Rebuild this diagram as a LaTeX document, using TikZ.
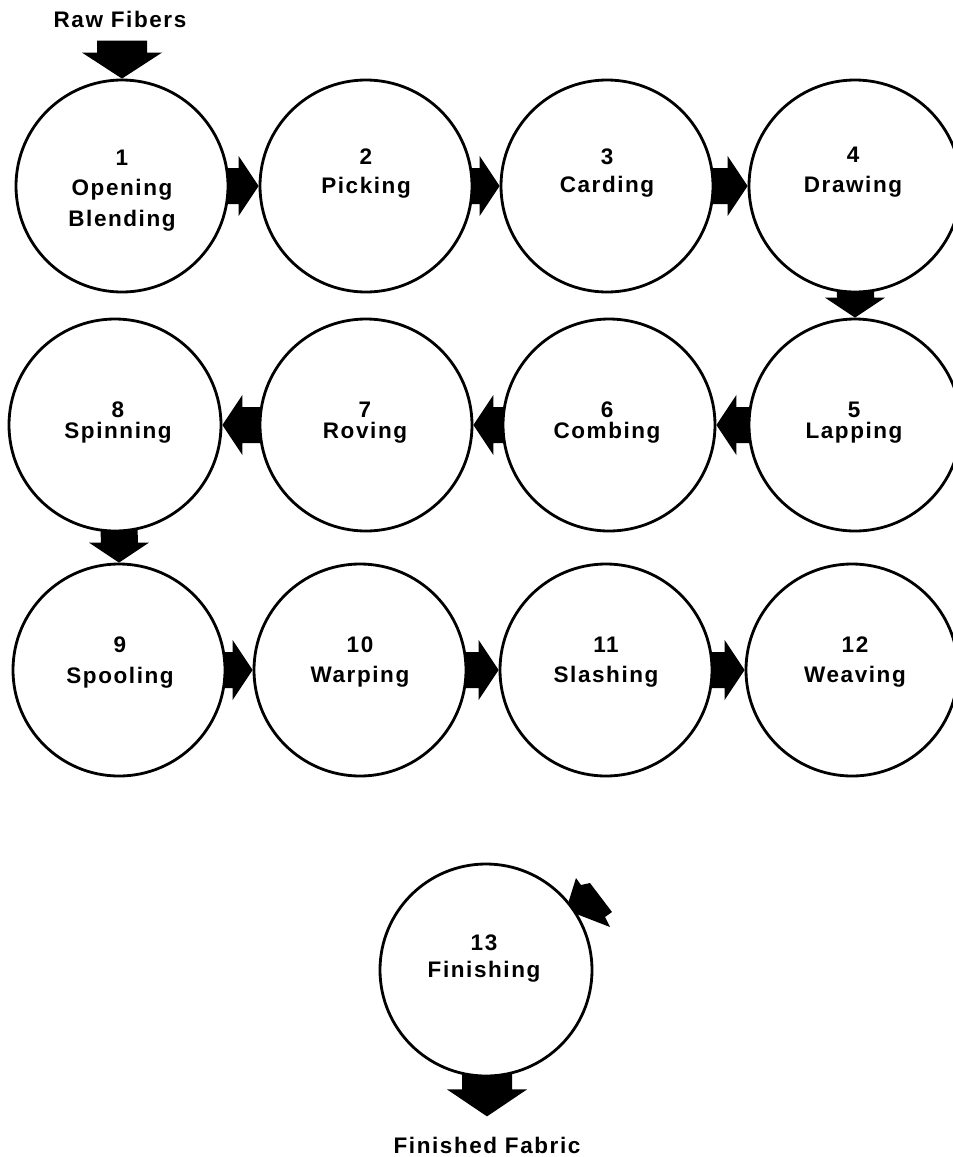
\documentclass[tikz,border=0pt]{standalone}
\usepackage{fontspec}
\setmainfont{Liberation Sans}
\newfontfamily\labfont[LetterSpace=7]{Liberation Sans Bold}
\usetikzlibrary{calc}
\pgfdeclarelayer{background}
\pgfsetlayers{background,main}
\tikzset{
  circ/.style={circle, draw=black, line width=2.8pt, fill=white, minimum size=212pt, inner sep=0pt},
  lab/.style={font=\labfont\fontsize{22.5}{26}\selectfont, inner sep=0pt, anchor=center},
  blockarrow/.style={fill=black}
}
\newcommand\arrR[2]{\fill[blockarrow] (#2.west) -- ++(-20,-30) -- ++(0,12) -- ($(#1.center)+(0,-18)$) -- ($(#1.center)+(0,18)$) -- ($(#2.west)+(-20,18)$) -- ++(0,12) -- cycle;}
\newcommand\arrL[2]{\fill[blockarrow] (#2.east) -- ++(20,-30) -- ++(0,12) -- ($(#1.center)+(0,-18)$) -- ($(#1.center)+(0,18)$) -- ($(#2.east)+(20,18)$) -- ++(0,12) -- cycle;}
\newcommand\arrD[2]{\fill[blockarrow] (#2.north) -- ++(-30,-20) -- ++(12,0) -- ($(#1.center)+(-19,0)$) -- ($(#1.center)+(19,0)$) -- ($(#2.north)+(19,-20)$) -- ++(11,0) -- cycle;}
\begin{document}
\begin{tikzpicture}[x=1pt,y=-1pt]
\useasboundingbox (0,0) rectangle (953,1157);
% circles
\node[circ] (c1) at (122,186) {};
\node[circ] (c2) at (366,186) {};
\node[circ] (c3) at (607,186) {};
\node[circ] (c4) at (855,186) {};
\node[circ] (c5) at (855,425) {};
\node[circ] (c6) at (609,425) {};
\node[circ] (c7) at (366,425) {};
\node[circ] (c8) at (115,425) {};
\node[circ] (c9) at (119,670) {};
\node[circ] (c10) at (360,670) {};
\node[circ] (c11) at (606,670) {};
\node[circ] (c12) at (852,670) {};
\node[circ] (c13) at (486,970) {};
% labels
\node[lab] (n1) at (122,158) {1};
\node[lab] (t1a) at (122,190) {Opening};
\node[lab] (t1b) at (122,221) {Blending};
\node[lab] (n2) at (366,157) {2};
\node[lab] (t2) at (366,188) {Picking};
\node[lab] (n3) at (607,157) {3};
\node[lab] (t3) at (607,187) {Carding};
\node[lab] (n4) at (853,155) {4};
\node[lab] (t4) at (853,187) {Drawing};
\node[lab] (n5) at (854,410) {5};
\node[lab] (t5) at (854,433) {Lapping};
\node[lab] (n6) at (607,410) {6};
\node[lab] (t6) at (607,433) {Combing};
\node[lab] (n7) at (365,410) {7};
\node[lab] (t7) at (365,433) {Roving};
\node[lab] (n8) at (118,410) {8};
\node[lab] (t8) at (118,433) {Spinning};
\node[lab] (n9) at (120,645) {9};
\node[lab] (t9) at (120,678) {Spooling};
\node[lab] (n10) at (360,645) {10};
\node[lab] (t10) at (360,677) {Warping};
\node[lab] (n11) at (606,645) {11};
\node[lab] (t11) at (606,677) {Slashing};
\node[lab] (n12) at (855,645) {12};
\node[lab] (t12) at (855,677) {Weaving};
\node[lab] (n13) at (484,943) {13};
\node[lab] (t13) at (484,972) {Finishing};
\node[lab] (raw) at (120,19) {Raw Fibers};
\node[lab] (fab) at (487,1145) {Finished Fabric};
\coordinate (fabtip) at ($(c13.south)+(1,39)$);
% arrows
\begin{pgfonlayer}{background}
\fill[blockarrow] (c1.north) -- ++(-40,-26) -- ++(15,0) -- ++(0,-12) -- ++(50,0) -- ++(0,12) -- ++(15,0) -- cycle;
\arrR{c1}{c2}
\arrR{c2}{c3}
\arrR{c3}{c4}
\arrD{c4}{c5}
\arrL{c5}{c6}
\arrL{c6}{c7}
\arrL{c7}{c8}
\arrD{c8}{c9}
\arrR{c9}{c10}
\arrR{c10}{c11}
\arrR{c11}{c12}
\fill[blockarrow] ($(c13.center)+(90,-92)$) -- ($(c13.center)+(95,-85)$) -- ($(c13.center)+(104,-87)$) -- ($(c13.center)+(126,-58)$) -- ($(c13.center)+(119,-53)$) -- ($(c13.center)+(124,-43)$) -- ($(c13.center)+(93,-55)$) -- ($(c13.center)+(80,-60)$) -- cycle;
\fill[blockarrow] (fabtip) -- ++(-40,-27) -- ++(15,0) -- ($(c13.center)+(-24,0)$) -- ($(c13.center)+(26,0)$) -- ($(fabtip)+(25,-27)$) -- ++(15,0) -- cycle;
\end{pgfonlayer}
\end{tikzpicture}
\end{document}
